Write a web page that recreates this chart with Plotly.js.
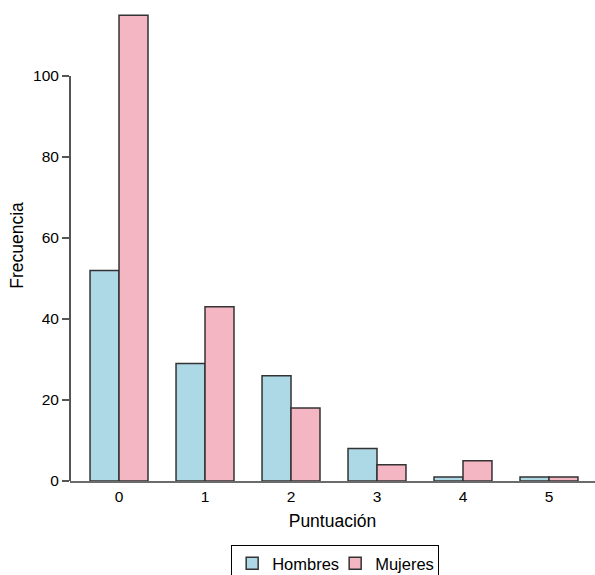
<!DOCTYPE html>
<html>
<head>
<meta charset="utf-8">
<script src="https://cdn.plot.ly/plotly-3.0.1.min.js"></script>
<style>html,body{margin:0;padding:0;background:#fff;}#chart{width:595px;height:575px;}</style>
</head>
<body>
<div id="chart"></div>
<script>
const puntuacion = [0, 1, 2, 3, 4, 5];
const tickLabels = ['0', '1', '2', '3', '4', '5'];
const hombres = [52, 29, 26, 8, 1, 1];
const mujeres = [115, 43, 18, 4, 5, 1];
const yTicks = [0, 20, 40, 60, 80, 100];

const font = 'Liberation Sans, Arial, Helvetica, sans-serif';
const traces = [
  {type: 'bar', name: 'Hombres', x: puntuacion, y: hombres,
   marker: {color: '#ADD8E6', line: {color: '#333333', width: 1.5}}},
  {type: 'bar', name: 'Mujeres', x: puntuacion, y: mujeres,
   marker: {color: '#F4B6C2', line: {color: '#333333', width: 1.5}}}
];
const layout = {
  width: 595, height: 575,
  margin: {l: 70, r: 0, t: 10, b: 94, autoexpand: false},
  paper_bgcolor: '#fff', plot_bgcolor: '#fff',
  barmode: 'group', bargap: 0.326, bargroupgap: 0,
  font: {family: font, color: '#000', size: 15.5},
  xaxis: {
    range: [-0.57, 5.535], tickvals: puntuacion, ticktext: tickLabels,
    showgrid: false, zeroline: false, showline: true, linecolor: '#6b6b6b', linewidth: 2,
    ticks: '', layer: 'below traces', tickfont: {size: 15.5},
    title: {text: 'Puntuación', font: {size: 17.5}, standoff: 11}
  },
  yaxis: {
    range: [0, 116.3], tickvals: yTicks, showgrid: false, zeroline: false, showline: false,
    ticks: 'outside', ticklen: 7, tickwidth: 2, tickcolor: '#555', tickfont: {size: 15.5},
    title: {text: 'Frecuencia', font: {size: 17.5}, standoff: 4}
  },
  shapes: [{type: 'line', xref: 'paper', yref: 'y', x0: 0, x1: 0, y0: 0, y1: 100,
            line: {color: '#555', width: 2}, layer: 'below'}],
  showlegend: true,
  legend: {orientation: 'h', x: 0.307, xanchor: 'left', y: -0.136, yanchor: 'top',
           bordercolor: '#000', borderwidth: 1, bgcolor: '#fff',
           font: {size: 16.5}, entrywidth: 58, entrywidthmode: 'pixels', traceorder: 'normal'}
};
Plotly.newPlot('chart', traces, layout, {staticPlot: true});
</script>
</body>
</html>
